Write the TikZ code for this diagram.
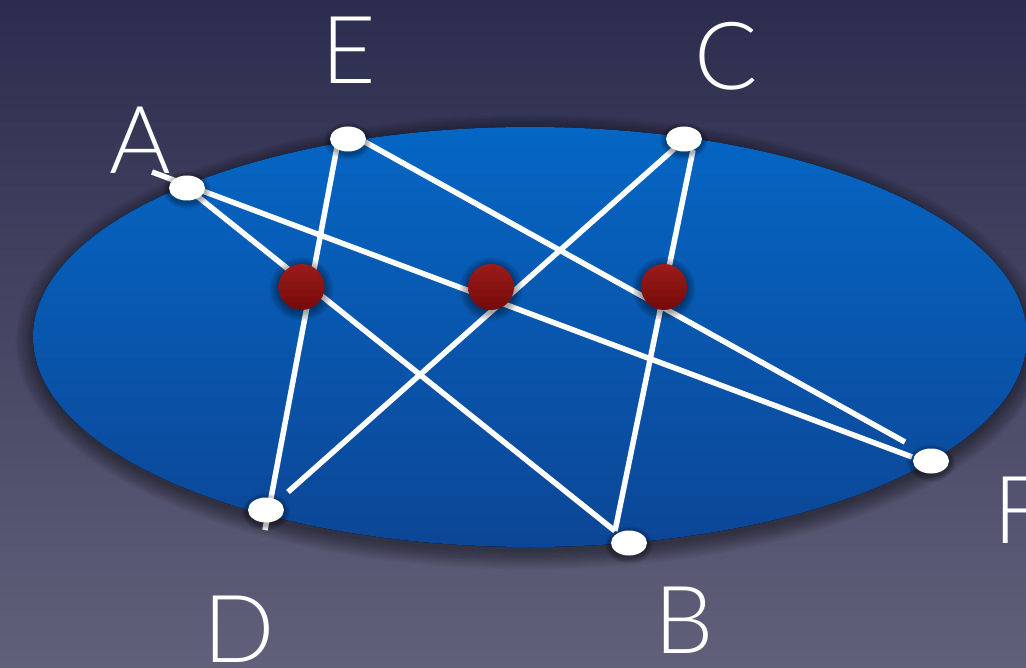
\documentclass[tikz,border=0pt]{standalone}
\usepackage{fontspec}
\setmainfont{Lato}[UprightFont={* Light}]
\usetikzlibrary{shapes.geometric}
\definecolor{bgtop}{RGB}{44,44,78}
\definecolor{bgbot}{RGB}{96,96,122}
\definecolor{bluetop}{RGB}{5,102,196}
\definecolor{bluebot}{RGB}{12,70,150}
\definecolor{redtop}{RGB}{156,28,26}
\definecolor{redbot}{RGB}{116,10,10}
\tikzset{
  ptnode/.style={ellipse, fill=white, minimum width=36pt, minimum height=25pt, inner sep=0pt},
  meet/.style={circle, top color=redtop, bottom color=redbot, minimum size=46pt, inner sep=0pt},
  chord/.style={draw=white, line width=5.5pt},
  lab/.style={text=white, font=\fontsize{94}{94}\selectfont, inner sep=0pt}
}
\begin{document}
\begin{tikzpicture}[x=1pt,y=-1pt]
\useasboundingbox (0,0) rectangle (1026,668);
\clip (0,0) rectangle (1026,668);
% background
\fill[top color=bgtop, bottom color=bgbot] (0,0) rectangle (1026,668);
% conic shadow
\foreach \i in {1,...,14}
  \fill[black, opacity=0.03] (530,342) ellipse [x radius={495+\i*1.4}, y radius={208+\i*1.4}];
% conic
\fill[top color=bluetop, bottom color=bluebot] (530,337) ellipse [x radius=497, y radius=210];
% chord end points
\coordinate (l1s) at (152,172); \coordinate (l1e) at (912,457);
\coordinate (l2s) at (187,188); \coordinate (l2e) at (615,531);
\coordinate (l3s) at (337,147); \coordinate (l3e) at (265,530);
\coordinate (l4s) at (365,142); \coordinate (l4e) at (905,442);
\coordinate (l5s) at (674,149); \coordinate (l5e) at (288,492);
\coordinate (l6s) at (693,150); \coordinate (l6e) at (615,531);
\draw[chord] (l1s) -- (l1e);
\draw[chord] (l2s) -- (l2e);
\draw[chord] (l3s) -- (l3e);
\draw[chord] (l4s) -- (l4e);
\draw[chord] (l5s) -- (l5e);
\draw[chord] (l6s) -- (l6e);
% intersection points
\foreach \p in {(301.5,287),(491,287),(664,287)}{
  \foreach \i in {1,...,7}
    \fill[black, opacity=0.06] \p ++(0,2) circle [radius={22.5+\i*1.3}];
}
\node[meet] (r1) at (301.5,287) {};
\node[meet] (r2) at (491,287) {};
\node[meet] (r3) at (664,287) {};
% points on conic
\foreach \p in {(187,188),(348,139),(684,139),(931,461),(266,510),(629,543)}{
  \foreach \i in {1,...,5}
    \fill[black, opacity=0.07] \p ++(0,2) ellipse [x radius={18+\i*1.2}, y radius={12.5+\i*1.2}];
}
\node[ptnode] (A) at (187,188) {};
\node[ptnode] (E) at (348,139) {};
\node[ptnode] (C) at (684,139) {};
\node[ptnode] (F) at (931,461) {};
\node[ptnode] (D) at (266,510) {};
\node[ptnode] (B) at (629,543) {};
% labels
\node[lab] (tA) at (140,140) {A};
\node[lab] (tE) at (349,50) {E};
\node[lab] (tC) at (726,56) {C};
\node[lab, anchor=west] (tF) at (993,510) {F};
\node[lab] (tD) at (239,629) {D};
\node[lab] (tB) at (684,620) {B};
\end{tikzpicture}
\end{document}
